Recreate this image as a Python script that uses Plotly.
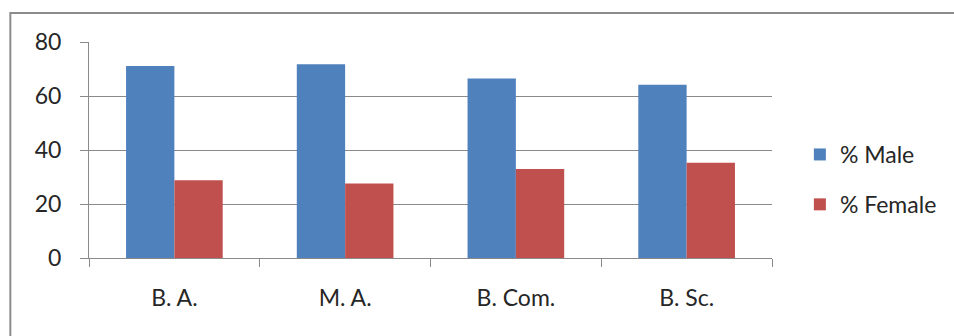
import plotly.graph_objects as go

# Share of male and female students by course
courses = ["B. A.", "M. A.", "B. Com.", "B. Sc."]
male_pct = [71.1, 71.8, 66.5, 64.2]
female_pct = [28.8, 27.6, 33.0, 35.3]
y_ticks = [0, 20, 40, 60, 80]

W, H = 954, 336
L, R, T, B = 89, 179, 42, 78
plot_w = W - L - R
plot_h = H - T - B

FONT = "Lato"
TEXT = "#262626"
GRID = "#8a8a8a"

fig = go.Figure()
fig.add_trace(go.Bar(
    x=courses, y=male_pct, name="% Male",
    marker=dict(color="#4F81BD", line=dict(width=0)),
    legendgroup="m",
))
fig.add_trace(go.Bar(
    x=courses, y=female_pct, name="% Female",
    marker=dict(color="#C0504D", line=dict(width=0)),
    legendgroup="f",
))

def px_x(px):
    return (px - L) / plot_w

def px_y(py):
    return (H - B - py) / plot_h

# Outer chart frame
fig.add_shape(
    type="rect", xref="paper", yref="paper",
    x0=px_x(10), x1=px_x(W + 10), y0=px_y(H + 10), y1=px_y(13),
    line=dict(color="#8c8c8c", width=2), fillcolor="rgba(0,0,0,0)",
    layer="below",
)

fig.update_layout(
    width=W, height=H,
    margin=dict(l=L, r=R, t=T, b=B, pad=0),
    paper_bgcolor="white", plot_bgcolor="white",
    barmode="group", bargap=0.434, bargroupgap=0,
    font=dict(family=FONT, size=23, color=TEXT),
    showlegend=True,
    legend=dict(
        x=px_x(803), y=px_y(133), xanchor="left", yanchor="top",
        font=dict(family=FONT, size=23, color=TEXT),
        tracegroupgap=17, itemsizing="constant",
        bgcolor="rgba(0,0,0,0)",
    ),
    xaxis=dict(
        type="category",
        showline=True, linecolor=GRID, linewidth=1,
        ticks="outside", tickson="boundaries", ticklen=8, tickcolor=GRID,
        tickwidth=1,
        ticklabelstandoff=19,
        showgrid=False, zeroline=False,
        tickfont=dict(family=FONT, size=23, color=TEXT),
    ),
    yaxis=dict(
        range=[0, 80], tickvals=y_ticks,
        showline=True, linecolor=GRID, linewidth=1,
        ticks="outside", ticklen=8, tickcolor=GRID, tickwidth=1,
        ticklabelstandoff=14,
        showgrid=True, gridcolor=GRID, gridwidth=1,
        zeroline=False,
        tickfont=dict(family=FONT, size=23, color=TEXT),
    ),
)

fig.write_html("out.html")
